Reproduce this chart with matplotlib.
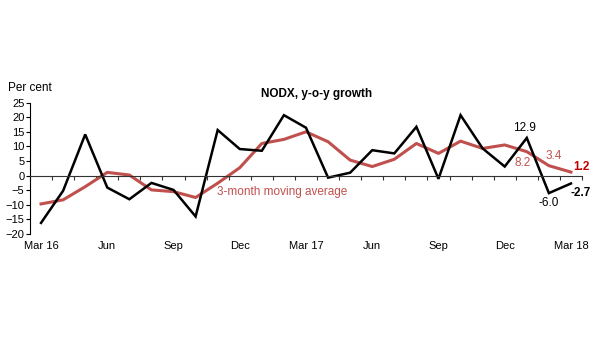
import matplotlib.pyplot as plt
import numpy as np

plt.rcParams['font.family'] = ['Liberation Sans', 'DejaVu Sans']

months = ["Mar 16", "Apr", "May", "Jun", "Jul", "Aug", "Sep", "Oct", "Nov", "Dec",
          "Jan 17", "Feb", "Mar 17", "Apr", "May", "Jun", "Jul", "Aug", "Sep", "Oct",
          "Nov", "Dec", "Jan 18", "Feb", "Mar 18"]
nodx = [-16.2, -5.2, 14.1, -4.1, -8.1, -2.5, -4.9, -14.0, 15.6, 9.1,
        8.5, 20.7, 16.4, -0.7, 1.0, 8.7, 7.6, 16.7, -1.1, 20.7,
        9.3, 3.1, 12.9, -6.0, -2.7]
mavg = [-9.7, -8.3, -3.8, 1.1, 0.2, -4.9, -5.5, -7.5, -2.6, 2.7,
        11.0, 12.4, 15.0, 11.6, 5.3, 3.1, 5.6, 11.0, 7.6, 11.8,
        9.3, 10.5, 8.2, 3.4, 1.2]
shown_labels = ["Mar 16", "Jun", "Sep", "Dec", "Mar 17", "Jun", "Sep", "Dec", "Mar 18"]

red = '#c0504d'
x = np.arange(len(months))

fig = plt.figure(figsize=(6, 3.6), dpi=100)
ax = fig.add_axes([0.05, 0.35, 0.92, 0.365])

ax.plot(x, mavg, color=red, lw=2.2, solid_joinstyle='round')
ax.plot(x, nodx, color='black', lw=1.8, solid_joinstyle='miter')

ax.set_xlim(-0.5, len(months) - 0.5)
ax.set_ylim(-20, 25)
ax.set_yticks(np.arange(-20, 26, 5))
ax.tick_params(axis='y', labelsize=8, length=3, width=0.8, pad=1)

ax.spines['top'].set_visible(False)
ax.spines['right'].set_visible(False)
ax.spines['left'].set_linewidth(0.8)
ax.spines['bottom'].set_position(('data', 0))
ax.spines['bottom'].set_linewidth(0.8)
ax.spines['bottom'].set_color('#333333')
ax.set_xticks(np.arange(-0.5, len(months), 1))
ax.tick_params(axis='x', labelbottom=False, length=3, width=0.8, color='#333333')

sec = ax.secondary_xaxis('bottom')
sec.set_xticks(x[::3], shown_labels)
sec.spines['bottom'].set_visible(False)
sec.tick_params(length=0, labelsize=8, pad=5)

ax.set_title("NODX, y-o-y growth", fontsize=8.5, fontweight='bold', pad=4, x=0.52)
fig.text(0.013, 0.755, "Per cent", fontsize=8.5, va='center')

ax.text(10.9, -5.6, "3-month moving average", color=red, fontsize=8.5, ha='center', va='center')
ax.text(21.9, 16.3, "12.9", fontsize=8.5, ha='center', va='center')
ax.text(21.8, 4.3, "8.2", color=red, fontsize=8.5, ha='center', va='center')
ax.text(23.2, 6.7, "3.4", color=red, fontsize=8.5, ha='center', va='center')
ax.text(24.1, 3.0, "1.2", color='#c00000', fontsize=8.5, fontweight='bold',
        ha='left', va='center')
ax.text(23.0, -9.3, "-6.0", fontsize=8.5, ha='center', va='center')
ax.text(24.0, -5.9, "-2.7", fontsize=8.5, fontweight='bold', ha='left', va='center')

fig.savefig("out.png", dpi=100)
